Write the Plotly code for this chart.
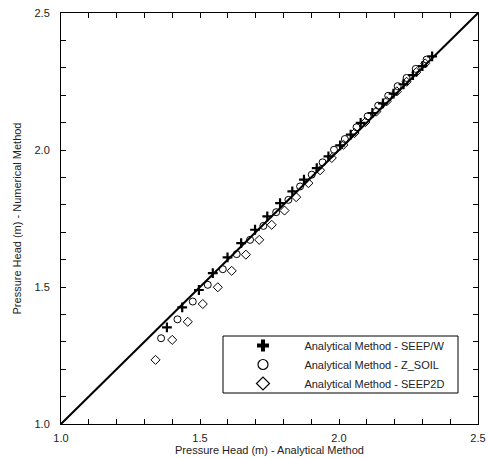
import plotly.graph_objects as go

# Pressure head (m): analytical solution (x) vs. numerical solution (y)
seepw_x = [1.381, 1.436, 1.496, 1.546, 1.599, 1.648, 1.698, 1.742, 1.788, 1.832, 1.874, 1.920,
           1.962, 2.004, 2.042, 2.078, 2.120, 2.158, 2.196, 2.232, 2.266, 2.300, 2.335]
seepw_y = [1.353, 1.426, 1.489, 1.551, 1.608, 1.660, 1.709, 1.758, 1.806, 1.849, 1.892, 1.934,
           1.977, 2.017, 2.056, 2.099, 2.135, 2.170, 2.206, 2.240, 2.273, 2.306, 2.342]

zsoil_x = [1.360, 1.419, 1.474, 1.528, 1.582, 1.632, 1.680, 1.728, 1.774, 1.818, 1.860, 1.902,
           1.941, 1.982, 2.021, 2.063, 2.103, 2.141, 2.177, 2.211, 2.243, 2.276, 2.315]
zsoil_y = [1.313, 1.382, 1.447, 1.508, 1.565, 1.620, 1.672, 1.723, 1.773, 1.818, 1.867, 1.910,
           1.955, 2.001, 2.040, 2.083, 2.123, 2.162, 2.198, 2.233, 2.263, 2.296, 2.330]

seep2d_x = [1.340, 1.400, 1.456, 1.510, 1.564, 1.614, 1.665, 1.713, 1.758, 1.804, 1.846, 1.890,
            1.932, 1.974, 2.016, 2.056, 2.095, 2.134, 2.172, 2.208, 2.243, 2.278, 2.310]
seep2d_y = [1.234, 1.307, 1.373, 1.438, 1.499, 1.559, 1.618, 1.672, 1.727, 1.779, 1.828, 1.879,
            1.926, 1.971, 2.019, 2.062, 2.102, 2.140, 2.178, 2.214, 2.249, 2.284, 2.316]

line_x = [1.0, 2.5]
line_y = [1.0, 2.5]

labels = ["Analytical Method - SEEP/W", "Analytical Method - Z_SOIL", "Analytical Method - SEEP2D"]
symbols = ["cross-thin", "circle-open", "diamond-open"]
legend_symbols = ["cross", "circle-open", "diamond-open"]

FONT = "Liberation Sans, Arial, sans-serif"
PAD = "\u00a0" * 7

fig = go.Figure()

# 1:1 reference line
fig.add_trace(go.Scatter(x=line_x, y=line_y, mode="lines",
                         line=dict(color="black", width=2), showlegend=False))

series = [(seepw_x, seepw_y), (zsoil_x, zsoil_y), (seep2d_x, seep2d_y)]
widths = [2.2, 1, 1]
for (xs, ys), sym, lw in zip(series, symbols, widths):
    fig.add_trace(go.Scatter(x=xs, y=ys, mode="markers", showlegend=False,
                             marker=dict(symbol=sym, size=7, color="black",
                                         line=dict(color="black", width=lw))))

# legend entries with larger symbols
for name, sym in zip(labels, legend_symbols):
    lw = 0 if sym == "cross" else 1.2
    fig.add_trace(go.Scatter(x=[None], y=[None], mode="markers", name=PAD + name,
                             marker=dict(symbol=sym, size=10, color="black",
                                         line=dict(color="black", width=lw))))

# legend frame
fig.add_shape(type="rect", xref="paper", yref="paper",
              x0=(223 - 61) / 417, x1=(458 - 61) / 417,
              y0=(424 - 393) / 411, y1=(424 - 336) / 411,
              line=dict(color="black", width=1), fillcolor="white", layer="above")

axis_common = dict(
    range=[1.0, 2.5], dtick=0.5, tick0=1.0, tickformat=".1f",
    ticks="inside", ticklen=5, tickwidth=1, tickcolor="black",
    showline=True, linecolor="black", linewidth=1, mirror="ticks",
    showgrid=False, zeroline=False,
    minor=dict(dtick=0.1, tick0=1.0, ticks="inside", ticklen=5, tickwidth=1,
               tickcolor="black", showgrid=False),
    tickfont=dict(family=FONT, size=11, color="#222"),
)

fig.update_layout(
    width=488, height=458,
    margin=dict(l=61, r=10, t=13, b=34),
    paper_bgcolor="white", plot_bgcolor="white",
    font=dict(family=FONT, size=11, color="#222"),
    xaxis=dict(**axis_common,
               title=dict(text="Pressure Head (m) - Analytical Method",
                          font=dict(family=FONT, size=11), standoff=1),
               ticklabelstandoff=4, automargin=False),
    yaxis=dict(**axis_common,
               title=dict(text="Pressure Head (m) - Numerical Method",
                          font=dict(family=FONT, size=11), standoff=10),
               ticklabelstandoff=8, automargin=False),
    legend=dict(x=(243 - 61) / 417, y=(424 - 364.5) / 411, xanchor="left", yanchor="middle",
                bgcolor="rgba(0,0,0,0)", borderwidth=0,
                font=dict(family=FONT, size=11, color="#222"),
                tracegroupgap=0, itemsizing="trace"),
    showlegend=True,
)

fig.write_html("out.html")
